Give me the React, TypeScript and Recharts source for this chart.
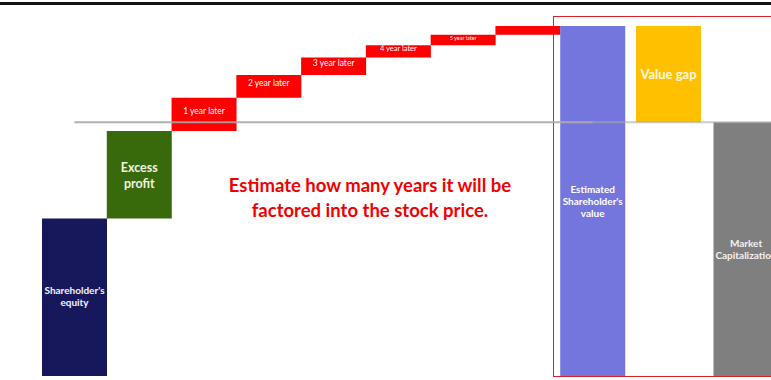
import React from "react";
import { BarChart, Bar, XAxis, YAxis, Cell, LabelList, ReferenceLine } from "recharts";

// ---- data ----
const stepCategories = [
  "Shareholder's equity",
  "Excess profit",
  "1 year later",
  "2 year later",
  "3 year later",
  "4 year later",
  "5 year later",
  "6 year later",
  "Estimated Shareholder's value",
];
const stepLabels = [
  "Shareholder's\nequity",
  "Excess\nprofit",
  "1 year later",
  "2 year later",
  "3 year later",
  "4 year later",
  "5 year later",
  "",
  "Estimated\nShareholder's\nvalue",
];
// increments (last category is the running total)
const stepValues = [45, 25, 9.5, 6.5, 5, 3.5, 3, 2.5];

const rightCategories = ["Value gap", "Market Capitalization"];
const rightLabels = ["Value gap", "Market\nCapitalization"];
const marketCap = 72.5;

const annotationLines = ["Estimate how many years it will be", "factored into the stock price."];

// ---- styles ----
const stepColors = [
  "#17175b",
  "#386a0b",
  "#ff0000",
  "#ff0000",
  "#ff0000",
  "#ff0000",
  "#ff0000",
  "#ff0000",
  "#7476dd",
];
const rightColors = ["#ffc000", "#7f7f7f"];
const labelStyle: Record<string, { size: number; weight: number; lh: number; color: string; dy: number }> = {
  "Shareholder's\nequity": { size: 10, weight: 700, lh: 12, color: "#f4f4ff", dy: -1 },
  "Excess\nprofit": { size: 12.5, weight: 700, lh: 16, color: "#eef4e0", dy: 0 },
  "1 year later": { size: 8.5, weight: 400, lh: 10, color: "#ffffff", dy: -3 },
  "2 year later": { size: 8.5, weight: 400, lh: 10, color: "#ffffff", dy: -3 },
  "3 year later": { size: 8.5, weight: 400, lh: 10, color: "#ffffff", dy: -3 },
  "4 year later": { size: 7.5, weight: 400, lh: 10, color: "#ffffff", dy: -3 },
  "5 year later": { size: 5.5, weight: 400, lh: 8, color: "#ffffff", dy: -2 },
  "Estimated\nShareholder's\nvalue": { size: 10, weight: 700, lh: 12, color: "#ffffff", dy: 0 },
  "Value gap": { size: 13, weight: 700, lh: 14, color: "#fff8e0", dy: 0 },
  "Market\nCapitalization": { size: 10, weight: 700, lh: 11.5, color: "#f2f2f2", dy: 0 },
};
const FONT = "Lato, 'Open Sans', sans-serif";

// ---- derived tables ----
const total = stepValues.reduce((a, b) => a + b, 0);
const stepData = stepCategories.map((name, i) => {
  if (i === stepCategories.length - 1) return { name, label: stepLabels[i], range: [0, total] };
  const low = stepValues.slice(0, i).reduce((a, b) => a + b, 0);
  return { name, label: stepLabels[i], range: [low, low + stepValues[i]] };
});
const rightData = [
  { name: rightCategories[0], label: rightLabels[0], range: [marketCap, total] },
  { name: rightCategories[1], label: rightLabels[1], range: [0, marketCap] },
];

const BarLabel = (props: any) => {
  const vb = props.viewBox ?? props;
  const { x, y, width, height } = vb;
  const value: string = props.value ?? "";
  if (!value) return null;
  const st = labelStyle[value] ?? { size: 10, weight: 700, lh: 12, color: "#fff", dy: 0 };
  const lines = value.split("\n");
  const cx = x + width / 2;
  const cy = y + height / 2 + st.dy;
  const startY = cy - ((lines.length - 1) * st.lh) / 2;
  return (
    <text
      x={cx}
      y={startY}
      textAnchor="middle"
      dominantBaseline="central"
      fill={st.color}
      fontSize={st.size}
      fontWeight={st.weight}
      fontFamily={FONT}
    >
      {lines.map((l, i) => (
        <tspan key={i} x={cx} y={startY + i * st.lh}>
          {l}
        </tspan>
      ))}
    </text>
  );
};

const GREY = "#a9a9a9";

export default function App() {
  return (
    <div
      style={{
        position: "fixed",
        left: 0,
        top: 0,
        width: 771,
        height: 380,
        overflow: "hidden",
        background: "#fff",
      }}
    >
      {/* top rule */}
      <div style={{ position: "absolute", left: 0, top: 2, width: 771, height: 3, background: "#111" }} />
      {/* highlight box */}
      <div
        style={{
          position: "absolute",
          left: 553,
          top: 16,
          width: 300,
          height: 361,
          border: "1.5px solid #d9232b",
          boxSizing: "border-box",
        }}
      />
      <div style={{ position: "absolute", left: 0, top: 0 }}>
        <BarChart
          width={640}
          height={380}
          data={stepData}
          margin={{ top: 26, right: 15, bottom: 4, left: 42 }}
          barCategoryGap={0}
        >
          <XAxis dataKey="name" hide />
          <YAxis hide domain={[0, total]} />
          <Bar dataKey="range" isAnimationActive={false}>
            {stepData.map((d, i) => (
              <Cell key={d.name} fill={stepColors[i]} />
            ))}
            <LabelList dataKey="label" content={BarLabel} />
          </Bar>
          <ReferenceLine
            segment={[
              { x: stepCategories[0], y: marketCap },
              { x: stepCategories[stepCategories.length - 1], y: marketCap },
            ]}
            stroke={GREY}
            strokeWidth={2}
            strokeOpacity={0.9}
          />
        </BarChart>
      </div>
      <div style={{ position: "absolute", left: 560, top: 0 }}>
        <BarChart
          width={225}
          height={380}
          data={rightData}
          margin={{ top: 26, right: 0, bottom: 4, left: 0 }}
          barSize={65}
        >
          <XAxis dataKey="name" hide padding={{ left: 70, right: 0 }} />
          <YAxis hide domain={[0, total]} />
          <Bar dataKey="range" isAnimationActive={false}>
            {rightData.map((d, i) => (
              <Cell key={d.name} fill={rightColors[i]} />
            ))}
            <LabelList dataKey="label" content={BarLabel} />
          </Bar>
          <ReferenceLine y={marketCap} stroke={GREY} strokeWidth={2} strokeOpacity={0.6} />
        </BarChart>
      </div>
      {/* annotation */}
      <div
        style={{
          position: "absolute",
          left: 170,
          top: 173,
          width: 400,
          textAlign: "center",
          color: "#f20000",
          fontFamily: FONT,
          fontWeight: 700,
          fontSize: 18.5,
          lineHeight: "25px",
        }}
      >
        {annotationLines.map((l) => (
          <div key={l}>{l}</div>
        ))}
      </div>
    </div>
  );
}
